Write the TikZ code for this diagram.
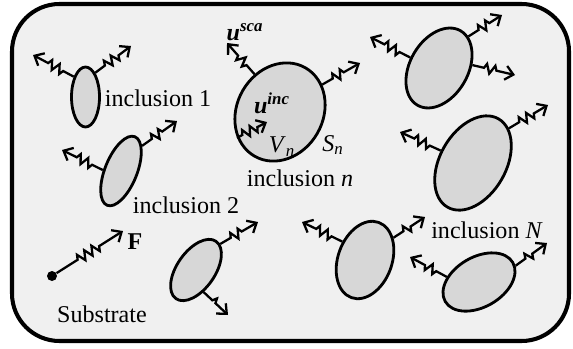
\documentclass[tikz,border=0pt]{standalone}
\usepackage{fontspec}
\setmainfont{Liberation Serif}
\usetikzlibrary{shapes.geometric,decorations.pathmorphing,arrows.meta}
\definecolor{substrate}{RGB}{240,240,240}
\definecolor{incfill}{RGB}{215,215,215}
\begin{document}
\begin{tikzpicture}[x=0.02cm,y=-0.02cm,
    incl/.style={ellipse,draw,line width=1.6pt,fill=incfill,inner sep=0pt},
    wave/.style={line width=1.3pt,-{Straight Barb[length=4.5pt,width=8pt]},decorate,
        decoration={zigzag,segment length=0.17cm,amplitude=0.09cm,pre length=0.24cm,post length=0.3cm}},
    lbl/.style={font=\fontsize{13.7}{16}\selectfont}]
    \useasboundingbox (0,0) rectangle (573,348);
    \draw[line width=2.3pt,fill=substrate,rounded corners=0.95cm] (12,4) rectangle (569,341);
    % inclusions
    \node[incl,minimum width=0.56cm,minimum height=1.2cm] (inc1) at (85.5,97) {};
    \node[incl,minimum width=1.48cm,minimum height=0.64cm,rotate=68] (inc2) at (121,171) {};
    \node[incl,minimum width=2.04cm,minimum height=1.72cm,rotate=60] (incn) at (280,112) {};
    \node[incl,minimum width=1.72cm,minimum height=1.16cm,rotate=60] (inc4) at (439,68) {};
    \node[incl,minimum width=2.04cm,minimum height=1.32cm,rotate=60] (incN) at (473,163) {};
    \node[incl,minimum width=1.6cm,minimum height=1.08cm,rotate=70] (inc6) at (365,260) {};
    \node[incl,minimum width=1.56cm,minimum height=1.0cm,rotate=30] (inc7) at (479,282) {};
    \node[incl,minimum width=1.4cm,minimum height=0.76cm,rotate=55] (inc8) at (196,270) {};
    \node[circle,fill,inner sep=0pt,minimum size=0.2cm] (dot) at (52,276) {};
    % arrow tips
    \coordinate (t1a) at (33,55);
    \coordinate (t1b) at (131,46);
    \coordinate (t2a) at (62,150);
    \coordinate (t2b) at (177,121);
    \coordinate (tsca) at (227,43);
    \coordinate (tnb) at (360,63);
    \coordinate (tinc) at (267,122);
    \coordinate (t4a) at (370,37);
    \coordinate (t4b) at (502,15);
    \coordinate (t4c) at (515,75);
    \coordinate (tNa) at (400,132);
    \coordinate (tNb) at (548,105);
    \coordinate (t6a) at (302,222);
    \coordinate (t6b) at (425,217);
    \coordinate (t7a) at (410,257);
    \coordinate (t7b) at (547,243);
    \coordinate (t8a) at (258,222);
    \coordinate (t8b) at (228,315);
    \coordinate (tF) at (123,231);
    % waves
    \draw[wave] (inc1.120) -- (t1a);
    \draw[wave] (inc1.68) -- (t1b);
    \draw[wave] (inc2.109) -- (t2a);
    \draw[wave] (inc2.-18) -- (t2b);
    \draw[wave] (incn.64) -- (tsca);
    \draw[wave] (incn.-27) -- (tnb);
    \draw[wave,decoration={pre length=0.12cm,post length=0.2cm}] (incn.151) -- (tinc);
    \draw[wave] (inc4.100) -- (t4a);
    \draw[wave] (inc4.-13) -- (t4b);
    \draw[wave] (inc4.-55) -- (t4c);
    \draw[wave] (incN.99) -- (tNa);
    \draw[wave] (incN.-16) -- (tNb);
    \draw[wave] (inc6.71) -- (t6a);
    \draw[wave] (inc6.-32) -- (t6b);
    \draw[wave] (inc7.141) -- (t7a);
    \draw[wave] (inc7.-6) -- (t7b);
    \draw[wave] (inc8.-8) -- (t8a);
    \draw[wave] (inc8.-126) -- (t8b);
    \draw[wave,decoration={pre length=0.5cm,post length=0.5cm}] (dot) -- (tF);
    % labels
    \node[lbl] (lab1) at (158,98) {inclusion 1};
    \node[lbl] (lab2) at (186,205) {inclusion 2};
    \node[lbl] (labn) at (300,178) {inclusion \textit{n}};
    \node[lbl] (labN) at (487,230) {inclusion \textit{N}};
    \node[lbl] (usca) at (245,32) {\textbf{\textit{u}}\textsuperscript{\textbf{\textit{sca}}}};
    \node[lbl] (uinc) at (272,103) {\textbf{\textit{u}}\textsuperscript{\textbf{\textit{inc}}}};
    \node[lbl] (vn) at (282,147) {\textit{V}\textsubscript{\textit{n}}};
    \node[lbl] (sn) at (333,145) {\textit{S}\textsubscript{\textit{n}}};
    \node[lbl] (force) at (135,242) {\textbf{F}};
    \node[lbl] (sub) at (102,314) {Substrate};
\end{tikzpicture}
\end{document}
